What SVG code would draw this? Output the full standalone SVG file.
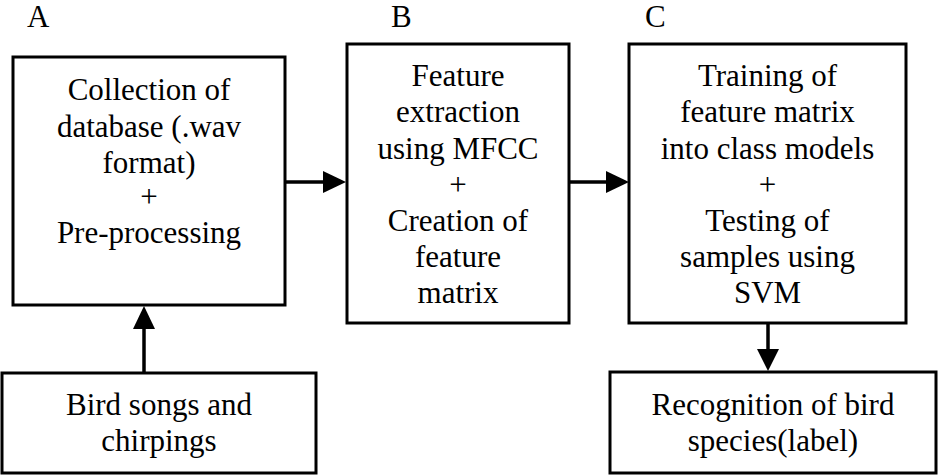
<svg xmlns="http://www.w3.org/2000/svg" width="938" height="476" viewBox="0 0 938 476">
<defs>
<style>
.box{fill:#fff;stroke:#000;stroke-width:3}
.ln{stroke:#000;stroke-width:3.5;fill:none}
.hd{fill:#000;stroke:none}
</style>
</defs>
<rect width="938" height="476" fill="#fff"/>
<text x="27" y="27" font-family="Liberation Serif" font-size="31">A</text>
<text x="391" y="27" font-family="Liberation Serif" font-size="31">B</text>
<text x="645" y="27" font-family="Liberation Serif" font-size="31">C</text>
<g id="nodeA">
<rect class="box" x="13" y="57" width="272" height="248"/>
<text x="149" y="100" font-family="Liberation Serif" font-size="31" text-anchor="middle">Collection of</text>
<text x="149" y="137" font-family="Liberation Serif" font-size="31" text-anchor="middle">database (.wav</text>
<text x="149" y="173" font-family="Liberation Serif" font-size="31" text-anchor="middle">format)</text>
<text x="149" y="207" font-family="Liberation Serif" font-size="31" text-anchor="middle">+</text>
<text x="149" y="243" font-family="Liberation Serif" font-size="31" text-anchor="middle">Pre-processing</text>
</g>
<g id="nodeB">
<rect class="box" x="347" y="44" width="222" height="279"/>
<text x="458" y="86" font-family="Liberation Serif" font-size="31" text-anchor="middle">Feature</text>
<text x="458" y="122" font-family="Liberation Serif" font-size="31" text-anchor="middle">extraction</text>
<text x="458" y="159" font-family="Liberation Serif" font-size="31" text-anchor="middle">using MFCC</text>
<text x="458" y="195" font-family="Liberation Serif" font-size="31" text-anchor="middle">+</text>
<text x="458" y="231" font-family="Liberation Serif" font-size="31" text-anchor="middle">Creation of</text>
<text x="458" y="267" font-family="Liberation Serif" font-size="31" text-anchor="middle">feature</text>
<text x="458" y="303" font-family="Liberation Serif" font-size="31" text-anchor="middle">matrix</text>
</g>
<g id="nodeC">
<rect class="box" x="629" y="44" width="277" height="279"/>
<text x="767.5" y="86" font-family="Liberation Serif" font-size="31" text-anchor="middle">Training of</text>
<text x="767.5" y="122" font-family="Liberation Serif" font-size="31" text-anchor="middle">feature matrix</text>
<text x="767.5" y="159" font-family="Liberation Serif" font-size="31" text-anchor="middle">into class models</text>
<text x="767.5" y="195" font-family="Liberation Serif" font-size="31" text-anchor="middle">+</text>
<text x="767.5" y="231" font-family="Liberation Serif" font-size="31" text-anchor="middle">Testing of</text>
<text x="767.5" y="267" font-family="Liberation Serif" font-size="31" text-anchor="middle">samples using</text>
<text x="767.5" y="303" font-family="Liberation Serif" font-size="31" text-anchor="middle">SVM</text>
</g>
<g id="nodeBird">
<rect class="box" x="2" y="373" width="314" height="100"/>
<text x="159" y="415" font-family="Liberation Serif" font-size="31" text-anchor="middle">Bird songs and</text>
<text x="159" y="451" font-family="Liberation Serif" font-size="31" text-anchor="middle">chirpings</text>
</g>
<g id="nodeRec">
<rect class="box" x="610" y="372" width="326" height="101"/>
<text x="773" y="415" font-family="Liberation Serif" font-size="31" text-anchor="middle">Recognition of bird</text>
<text x="773" y="451" font-family="Liberation Serif" font-size="31" text-anchor="middle">species(label)</text>
</g>
<g id="connectors">
<line class="ln" x1="285" y1="182" x2="324" y2="182"/>
<polygon class="hd" points="323,171 346,182 323,193"/>
<line class="ln" x1="569" y1="182" x2="607" y2="182"/>
<polygon class="hd" points="606,171 629,182 606,193"/>
<line class="ln" x1="144" y1="373" x2="144" y2="328"/>
<polygon class="hd" points="133,329 144,306 155,329"/>
<line class="ln" x1="768" y1="323" x2="768" y2="351"/>
<polygon class="hd" points="757,349 768,371 779,349"/>
</g>
</svg>
